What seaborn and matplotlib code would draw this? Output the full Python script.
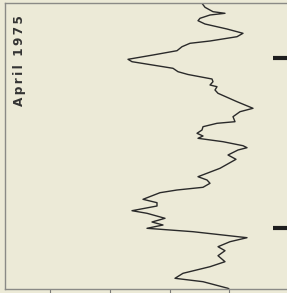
import numpy as np
import pandas as pd
import matplotlib
matplotlib.use("Agg")
import matplotlib.pyplot as plt
import seaborn as sns

# ----------------------------
# Data (time runs top -> bottom, value left -> right)
# ----------------------------
time_idx = [0.3, 4.3, 8.7, 10.3, 12, 15.3, 17.7, 21, 26, 30.3,
            33.7, 38, 40.3, 43.7, 47.7, 52, 56.3, 58.7, 65.3, 68.7,
            71.5, 76, 78.7, 82, 83.7, 87, 90.3, 98.7, 105.3, 108.7,
            113.7, 118.7, 120.3, 123.7, 127, 130.3, 133, 135.3, 138.7, 142.7,
            144.7, 147, 152, 156.3, 165.3, 173.7, 177, 180.3, 184.3, 187,
            189.7, 196.3, 199.7, 203, 207.7, 210.3, 215.3, 219, 222, 225.3,
            228.7, 234.7, 238.7, 243.7, 247.7, 252.7, 258.7, 263.7, 270.3, 275.3,
            278.7, 285.3, 286]
level = [197, 200, 208, 220, 205, 195, 193, 200, 222, 238,
         232, 205, 185, 177, 172, 148, 123, 127, 168, 173,
         183, 207, 208, 205, 212, 210, 213, 232, 248, 235,
         228, 230, 212, 198, 197, 192, 198, 193, 218, 238,
         242, 233, 223, 231, 215, 193, 202, 205, 198, 172,
         155, 138, 152, 152, 127, 142, 160, 147, 158, 142,
         188, 242, 225, 213, 220, 213, 220, 205, 178, 170,
         198, 223, 224]

level_ticks = [45, 105, 165, 224]
event_marks = [55, 225]
title_words = ["April", "1975"]

df = pd.DataFrame({"time": time_idx, "level": level})

# ----------------------------
# Plot
# ----------------------------
sns.set_style("white")
plt.rcParams["font.family"] = ["DejaVu Sans"]

bg = "#ecead7"
fig = plt.figure(figsize=(2.87, 2.93), dpi=100, facecolor=bg)
ax = fig.add_axes([5/287, 4/293, 282/287, 286/293])
ax.set_facecolor(bg)

sns.lineplot(data=df, x="level", y="time", sort=False, orient="y",
             estimator=None, color="#2a2a2a", linewidth=1.0, ax=ax)

# short black marks at the right edge
ax.hlines(event_marks, 0.95, 1.0, transform=ax.get_yaxis_transform(),
          color="#1e1e1e", linewidth=3)

ax.set_xlim(0, 282)
ax.set_ylim(286, 0)
ax.set_xticks(level_ticks)
ax.set_xticklabels([])
ax.set_yticks([])
ax.set_xlabel("")
ax.set_ylabel("")
ax.tick_params(axis="x", direction="out", length=3.5, width=0.8,
               color="#7a7a78", bottom=True)

for side in ["left", "top", "bottom"]:
    ax.spines[side].set_color("#8a8a86")
    ax.spines[side].set_linewidth(1.0)
ax.spines["right"].set_visible(False)

# letter-spaced label, as in the original print
title = "\u2009".join(title_words[0]) + "  " + "\u2009".join(title_words[1])
ax.text(0.052, 0.80, title, transform=ax.transAxes, rotation=90,
        ha="center", va="center", fontsize=8.7, fontweight="bold",
        color="#333333")

fig.savefig("out.png", dpi=100, facecolor=bg)
